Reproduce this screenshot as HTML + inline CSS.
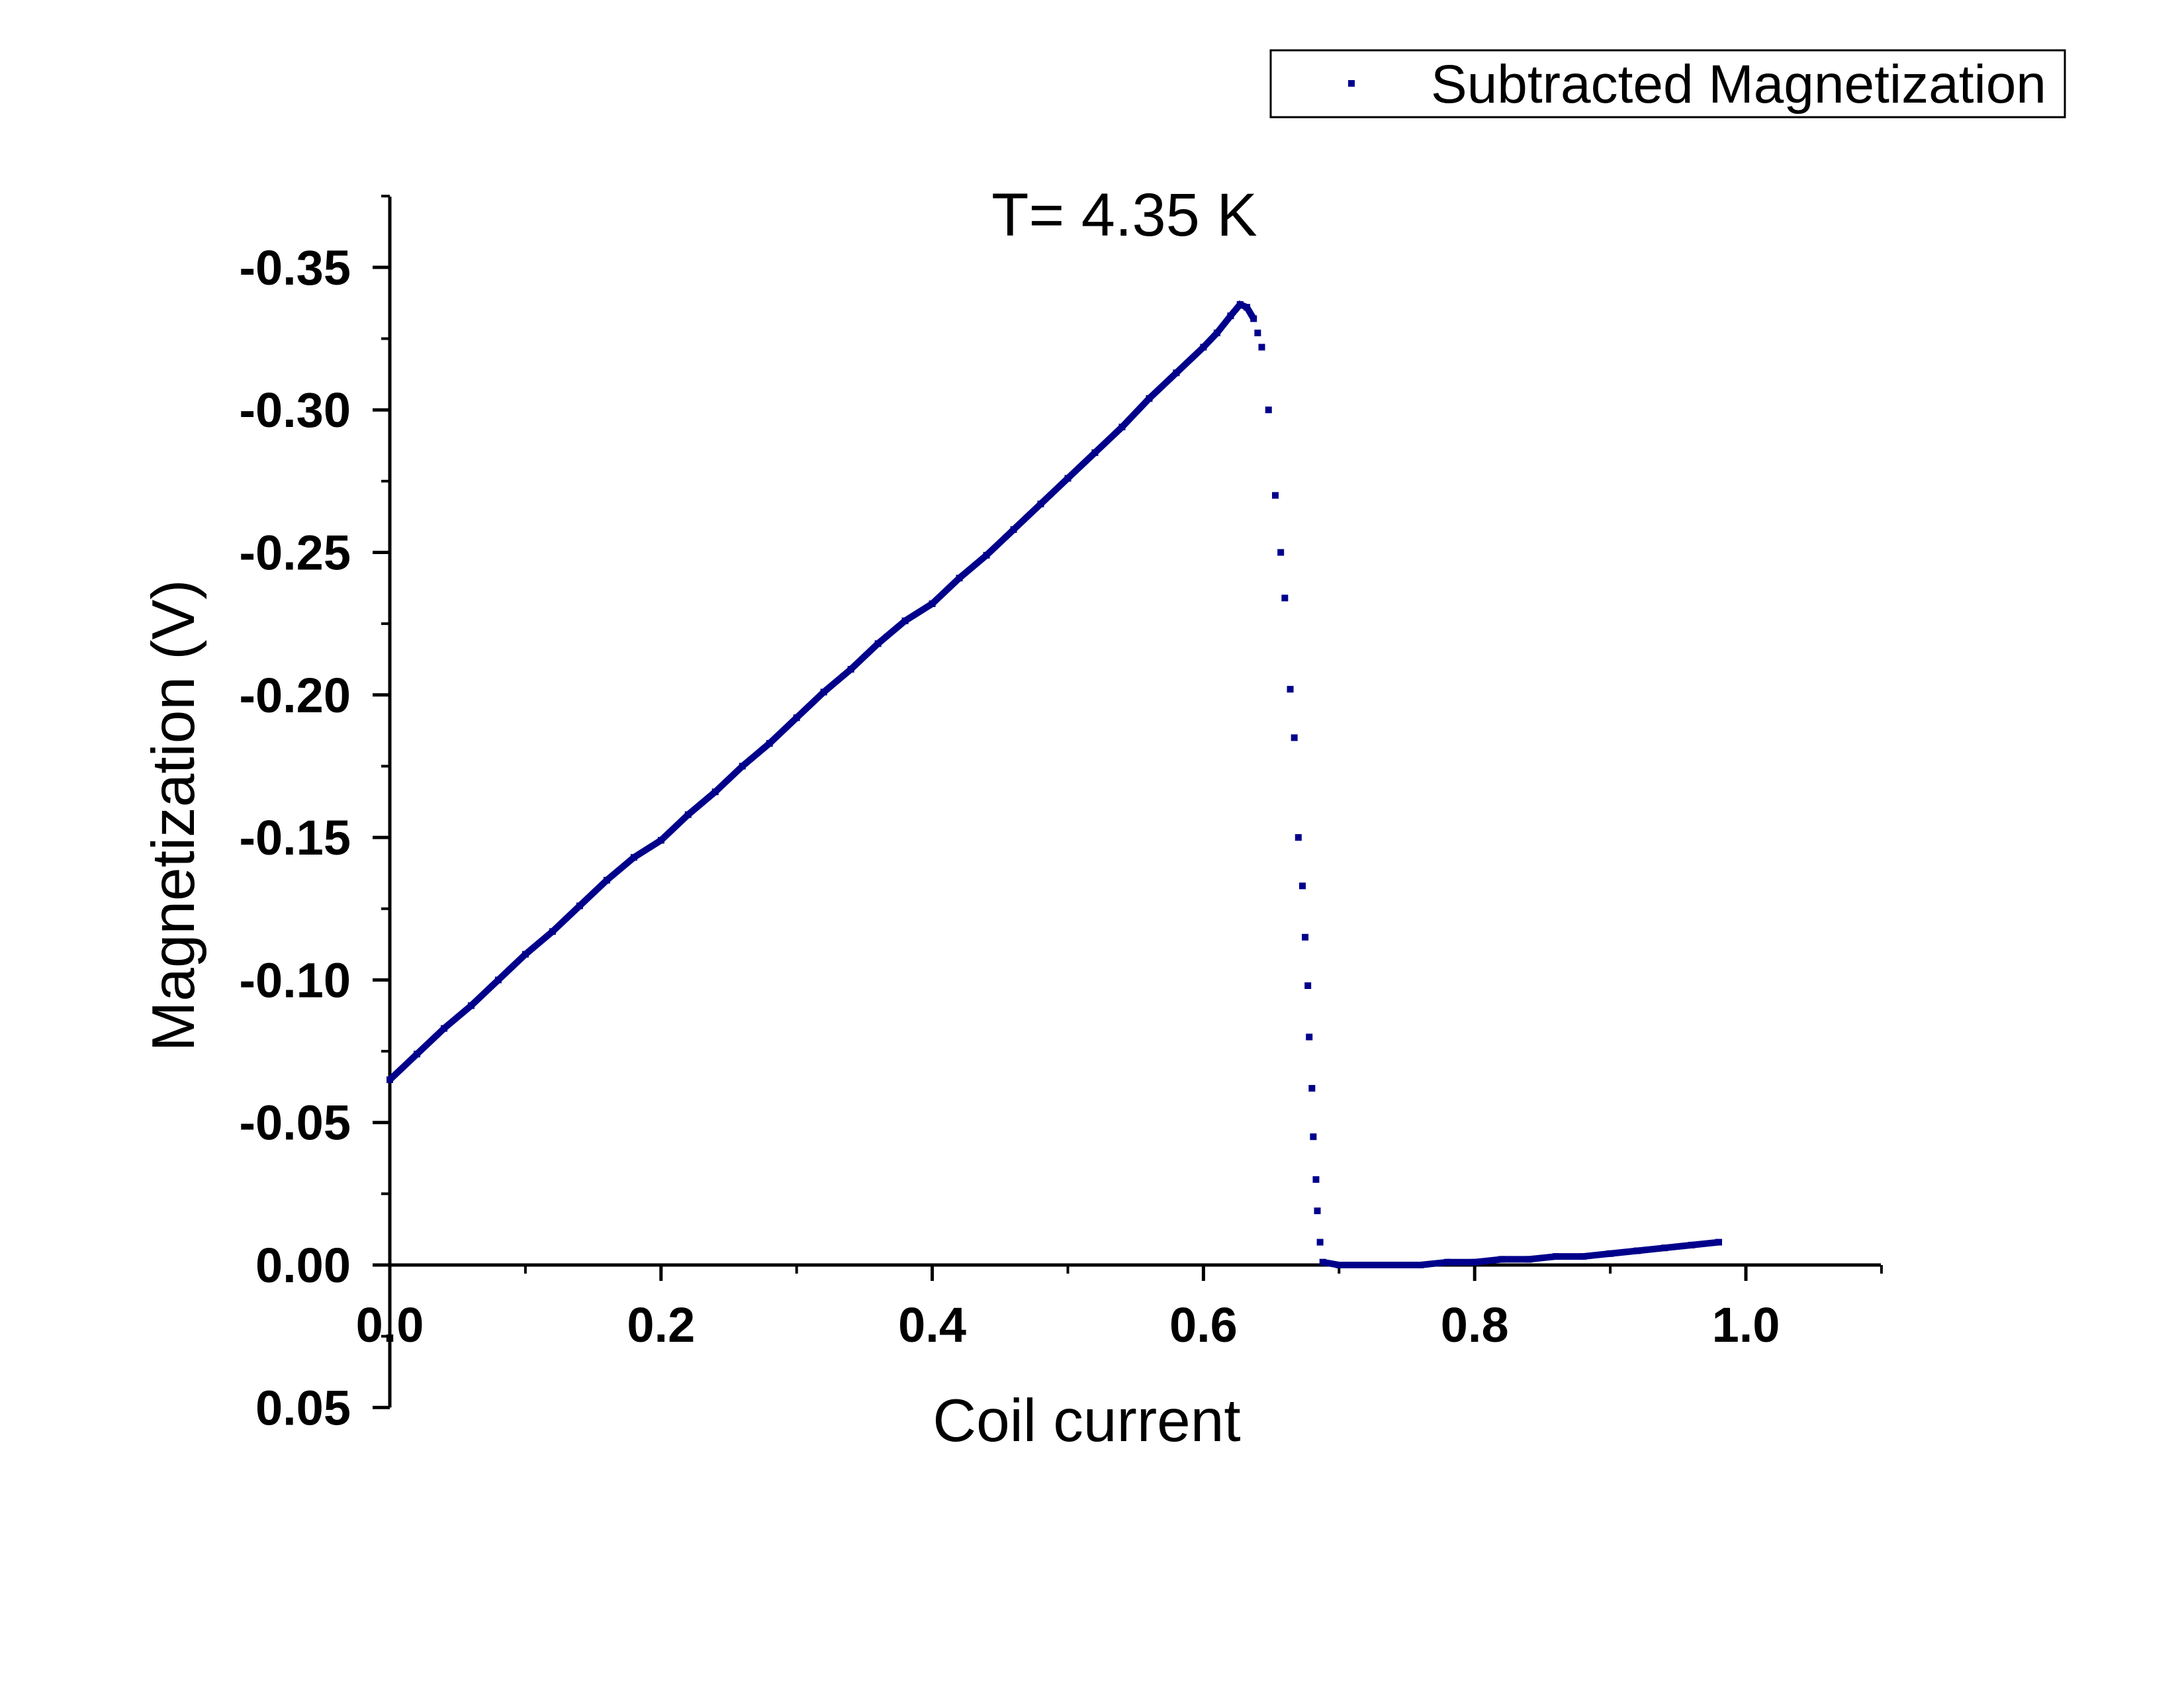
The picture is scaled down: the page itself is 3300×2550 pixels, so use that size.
<!DOCTYPE html>
<html><head><meta charset="utf-8"><style>
html,body{margin:0;padding:0;background:#fff;}
svg{display:block;font-family:"Liberation Sans",sans-serif;}
</style></head><body>
<svg id="chart" width="3300" height="2550" viewBox="0 0 3300 2550" xmlns="http://www.w3.org/2000/svg">
<rect x="0" y="0" width="3300" height="2550" fill="#fff"/>
<g>
<rect x="1920" y="76" width="1200" height="101" fill="#fff" stroke="#000" stroke-width="3"/>
<rect x="2037" y="121" width="10" height="10" fill="#00008B"/>
<text x="2162" y="155" font-size="82" fill="#000">Subtracted Magnetization</text>
</g>
<text x="1699" y="356" font-size="92" text-anchor="middle">T= 4.35 K</text>
<text x="1642" y="2177" font-size="91" text-anchor="middle">Coil current</text>
<text transform="translate(293,1232) rotate(-90)" font-size="91" text-anchor="middle">Magnetization (V)</text>
<g id="axes"></g>
<g id="marks"></g>
</svg>
<script>
const xTicks = [0.0,0.2,0.4,0.6,0.8,1.0];
const xTickLabels = ["0.0","0.2","0.4","0.6","0.8","1.0"];
const yTicks = [-0.35,-0.30,-0.25,-0.20,-0.15,-0.10,-0.05,0.00,0.05];
const yTickLabels = ["-0.35","-0.30","-0.25","-0.20","-0.15","-0.10","-0.05","0.00","0.05"];
const seriesX = [0,0.02,0.04,0.06,0.08,0.10,0.12,0.14,0.16,0.18,0.20,0.22,0.24,0.26,0.28,0.30,0.32,0.34,0.36,0.38,0.40,0.42,0.44,0.46,0.48,0.50,0.52,0.54,0.56,0.58,0.60,0.61,0.62,0.627,0.632,0.637,0.640,0.643,0.648,0.653,0.657,0.660,0.664,0.667,0.670,0.673,0.675,0.677,0.678,0.680,0.681,0.683,0.684,0.686,0.688,0.70,0.72,0.74,0.76,0.78,0.80,0.82,0.84,0.86,0.88,0.90,0.92,0.94,0.96,0.98];
const seriesY = [-0.065,-0.074,-0.083,-0.091,-0.100,-0.109,-0.117,-0.126,-0.135,-0.143,-0.149,-0.158,-0.166,-0.175,-0.183,-0.192,-0.201,-0.209,-0.218,-0.226,-0.232,-0.241,-0.249,-0.258,-0.267,-0.276,-0.285,-0.294,-0.304,-0.313,-0.322,-0.327,-0.333,-0.337,-0.336,-0.332,-0.327,-0.322,-0.300,-0.270,-0.250,-0.234,-0.202,-0.185,-0.150,-0.133,-0.115,-0.098,-0.080,-0.062,-0.045,-0.030,-0.019,-0.008,-0.001,0.000,0.000,0.000,0.000,-0.001,-0.001,-0.002,-0.002,-0.003,-0.003,-0.004,-0.005,-0.006,-0.007,-0.008];
const X0=589, XS=2049, Y0=1911, YS=4306;
const xs=v=>X0+v*XS, ys=v=>Y0+v*YS;
const NS="http://www.w3.org/2000/svg";
const axes=document.getElementById('axes'), marks=document.getElementById('marks');
function mk(tag,attrs,parent){const e=document.createElementNS(NS,tag);for(const k in attrs)e.setAttribute(k,attrs[k]);parent.appendChild(e);return e;}
let yl=mk('line',{x1:X0,y1:297,x2:X0,y2:ys(0.05),stroke:'#000','stroke-width':5},axes);


let xl=mk('line',{x1:X0,y1:Y0,x2:2842,y2:Y0,stroke:'#000','stroke-width':5},axes);


yTicks.forEach((v,i)=>{
  const y=ys(v);
  mk('line',{x1:X0-26,y1:y,x2:X0,y2:y,stroke:'#000','stroke-width':5},axes);
  if(i<yTicks.length-1) mk('line',{x1:X0-13,y1:ys(v+0.025),x2:X0,y2:ys(v+0.025),stroke:'#000','stroke-width':4},axes);
  const t=mk('text',{x:530,y:y+26,'font-size':74,'font-weight':'bold','text-anchor':'end'},axes);
  t.textContent=yTickLabels[i];
  
  
});
mk('line',{x1:X0-13,y1:ys(-0.375),x2:X0,y2:ys(-0.375),stroke:'#000','stroke-width':4},axes);
xTicks.forEach((v,i)=>{
  const x=xs(v);
  mk('line',{x1:x,y1:Y0,x2:x,y2:Y0+24,stroke:'#000','stroke-width':5},axes);
  mk('line',{x1:xs(v+0.1),y1:Y0,x2:xs(v+0.1),y2:Y0+13,stroke:'#000','stroke-width':4},axes);
  const t=mk('text',{x:x,y:2027,'font-size':74,'font-weight':'bold','text-anchor':'middle'},axes);
  t.textContent=xTickLabels[i];
  
  
});
let seg1=[],seg2=[];
seriesX.forEach((x,i)=>{ if(x<=0.637) seg1.push(xs(x)+','+ys(seriesY[i])); if(x>=0.688) seg2.push(xs(x)+','+ys(seriesY[i])); });
[seg1,seg2].forEach(s=>{
  const p=mk('polyline',{points:s.join(' '),fill:'none',stroke:'#00008B','stroke-width':10},marks);
  
  
});
seriesX.forEach((x,i)=>{
  const r=mk('rect',{x:xs(x)-5,y:ys(seriesY[i])-5,width:10,height:10,fill:'#00008B'},marks);
  
  
});
</script>
</body></html>
